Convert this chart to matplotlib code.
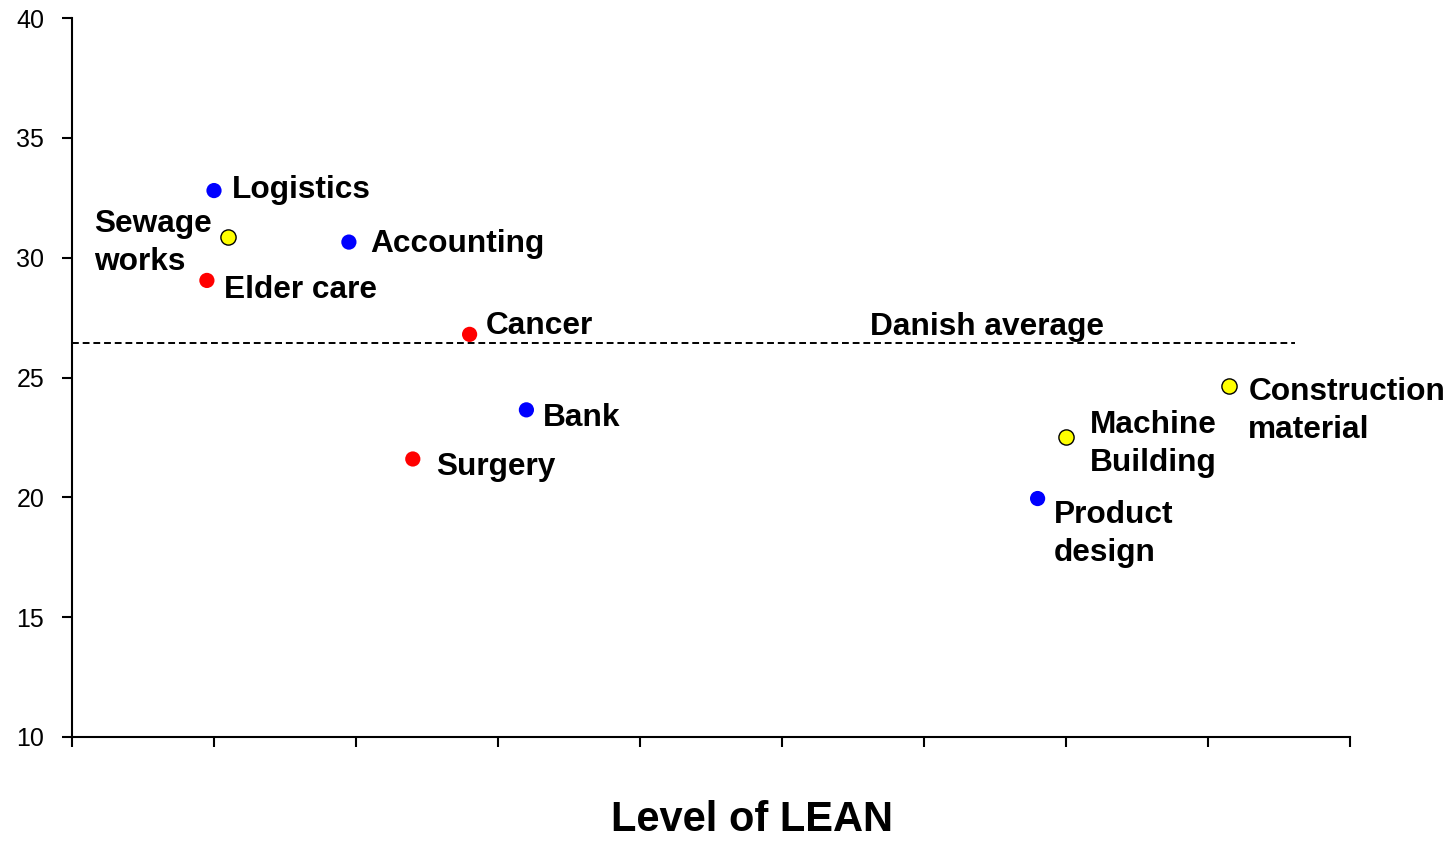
import matplotlib.pyplot as plt

plt.rcParams['font.family'] = ['Liberation Sans', 'DejaVu Sans']

# data
names = ['Logistics', 'Sewage\nworks', 'Accounting', 'Elder care', 'Cancer', 'Bank',
         'Surgery', 'Machine\nBuilding', 'Product\ndesign', 'Construction\nmaterial']
lean = [1.0, 1.1, 1.95, 0.95, 2.8, 3.2, 2.4, 7.0, 6.8, 8.15]
score = [32.8, 30.85, 30.65, 29.05, 26.8, 23.65, 21.6, 22.5, 19.95, 24.65]
colors = ['blue', 'yellow', 'blue', 'red', 'red', 'blue', 'red', 'yellow', 'blue', 'yellow']
danish_avg = 26.45
danish_end = 8.61

# label offsets in pixels and alignment
offsets = [(18, 1), (-16, -6), (21, -2), (17, -10), (16, 8), (16, -8),
           (23, -8), (24, -7), (16, -35), (19, -25)]
aligns = ['left', 'right', 'left', 'left', 'left', 'left', 'left', 'left', 'left', 'left']

fig = plt.figure(figsize=(14.53, 8.41), dpi=100)
ax = fig.add_axes([72 / 1453, 1 - 737 / 841, (1350 - 72) / 1453, (737 - 18) / 841])

for x, y, c in zip(lean, score, colors):
    ec = 'black' if c == 'yellow' else 'none'
    ax.scatter(x, y, s=120, color=c, edgecolors=ec, linewidths=1, zorder=3)

for name, x, y, (dx, dy), ha in zip(names, lean, score, offsets, aligns):
    ax.annotate(name, (x, y), xytext=(dx, dy), textcoords='offset pixels',
                ha=ha, va='center', multialignment='left',
                fontsize=22.8, fontweight='bold', linespacing=1.35)

ax.plot([0, danish_end], [danish_avg, danish_avg], color='black',
        linestyle=(0, (3.5, 2)), linewidth=1.4)
ax.text(5.62, 27.12, 'Danish average', fontsize=22.8, fontweight='bold', va='center')

ax.set_xlim(0, 9)
ax.set_ylim(10, 40)
ax.set_xticks(range(0, 10))
ax.set_xticklabels([])
ax.set_yticks(range(10, 41, 5))
ax.tick_params(axis='both', direction='out', length=7, width=1.5, labelsize=18, pad=13)
ax.spines['top'].set_visible(False)
ax.spines['right'].set_visible(False)
for s in ['left', 'bottom']:
    ax.spines[s].set_linewidth(1.5)

fig.text(752 / 1453, 1 - 820 / 841, 'Level of LEAN', fontsize=30, fontweight='bold',
         ha='center', va='center')

fig.savefig('out.png', dpi=100)
